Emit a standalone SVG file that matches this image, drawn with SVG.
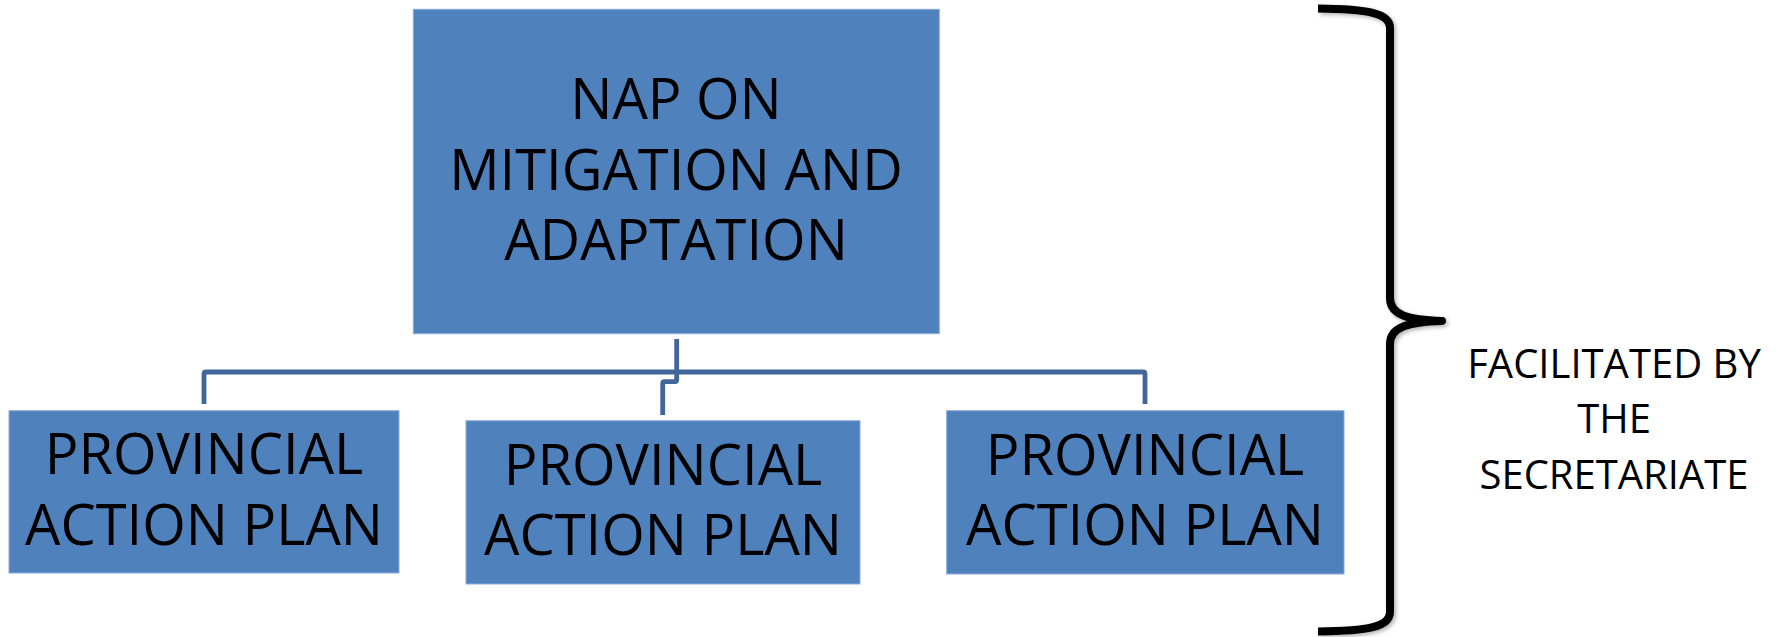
<svg xmlns="http://www.w3.org/2000/svg" width="1781" height="637" viewBox="0 0 1781 637">
  <style>
    .box { fill: #4F81BD; stroke: #8FAADC; stroke-width: 1; }
    .lbl { font-family: "Open Sans", "Liberation Sans", sans-serif; font-size: 56px; fill: #000; text-anchor: middle; }
    .note { font-family: "Open Sans", "Liberation Sans", sans-serif; font-size: 40px; fill: #000; text-anchor: middle; }
    .conn { fill: none; stroke: #41679A; stroke-width: 4.8; stroke-linejoin: round; }
    .brace { fill: none; stroke: #000; stroke-width: 8; stroke-linecap: butt; stroke-linejoin: round; }
  </style>
  <defs>
    <filter id="shadow" x="-20%" y="-5%" width="140%" height="110%">
      <feDropShadow dx="2" dy="2" stdDeviation="2" flood-color="#000" flood-opacity="0.3"/>
    </filter>
  </defs>
  <rect width="1781" height="637" fill="#fff"/>

  <g id="connectors">
    <path class="conn" d="M204,404 L204,374 Q204,372 206,372 L1143,372 Q1145,372 1145,374 L1145,404"/>
    <path class="conn" d="M676.7,339 L676.7,380 Q676.7,381.7 675,381.7 L664.5,381.7 Q662.7,381.7 662.7,383.5 L662.7,415"/>
  </g>

  <g id="node-nap">
    <rect class="box" x="413.3" y="9.3" width="526" height="324.4"/>
    <text class="lbl" x="676" y="119">NAP ON</text>
    <text class="lbl" x="676" y="190">MITIGATION AND</text>
    <text class="lbl" x="676" y="260">ADAPTATION</text>
  </g>

  <g id="node-pap1">
    <rect class="box" x="9" y="410.7" width="390" height="162.3"/>
    <text class="lbl" x="204" y="474">PROVINCIAL</text>
    <text class="lbl" x="204" y="545">ACTION PLAN</text>
  </g>

  <g id="node-pap2">
    <rect class="box" x="466" y="420.7" width="394" height="163.3"/>
    <text class="lbl" x="663" y="485">PROVINCIAL</text>
    <text class="lbl" x="663" y="555">ACTION PLAN</text>
  </g>

  <g id="node-pap3">
    <rect class="box" x="946.7" y="410.7" width="397.3" height="163.3"/>
    <text class="lbl" x="1145" y="475">PROVINCIAL</text>
    <text class="lbl" x="1145" y="545">ACTION PLAN</text>
  </g>

  <g id="brace">
    <path class="brace" filter="url(#shadow)" d="M1318,8.5 C1368,9 1390,13 1390,28 L1390,298 C1390,315 1408,320 1442,321 C1408,322 1390,327 1390,344 L1390,612 C1390,627 1368,631 1318,631.5"/>
  </g>

  <g id="note">
    <text class="note" x="1614" y="378">FACILITATED BY</text>
    <text class="note" x="1614" y="433">THE</text>
    <text class="note" x="1614" y="489">SECRETARIATE</text>
  </g>
</svg>
